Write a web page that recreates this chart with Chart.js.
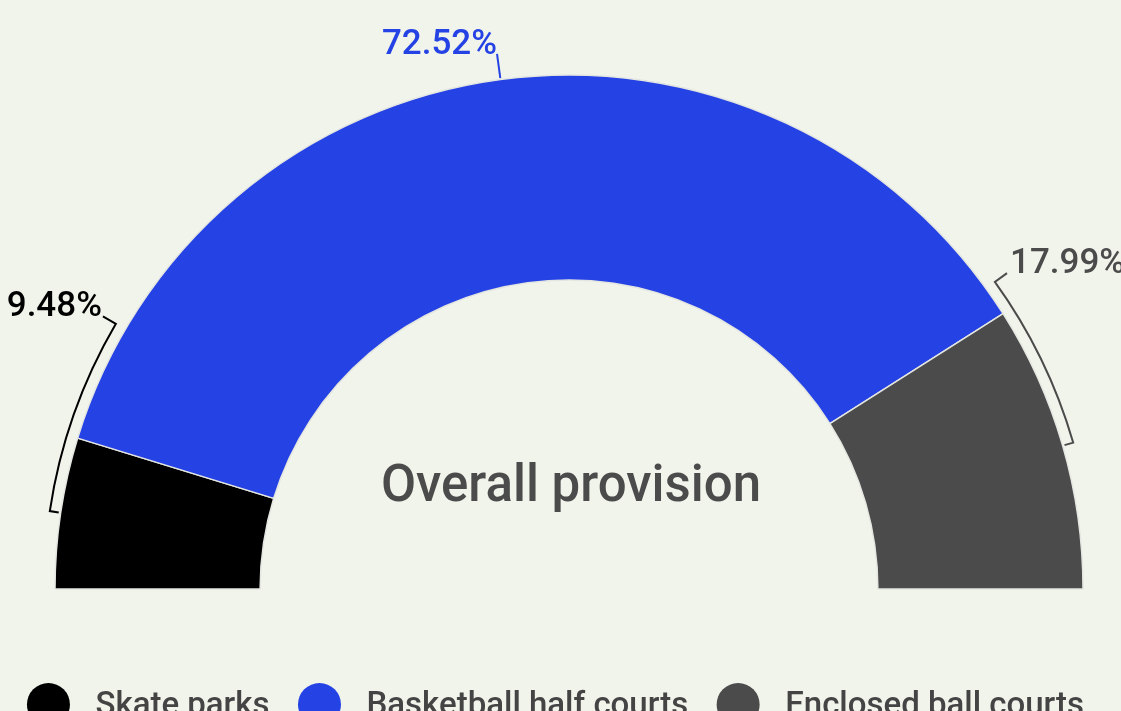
<!DOCTYPE html>
<html>
<head>
<meta charset="utf-8">
<script src="https://cdn.jsdelivr.net/npm/chart.js@4.4.1/dist/chart.umd.min.js"></script>
<style>
  html, body { margin: 0; padding: 0; background: #f1f4eb; overflow: hidden; }
  #wrap { width: 1121px; height: 711px; position: relative; }
</style>
</head>
<body>
<div id="wrap"><canvas id="provision"></canvas></div>
<script>
var categories = ['Skate parks', 'Basketball half courts', 'Enclosed ball courts'];
var shares = [9.48, 72.52, 17.99];
var sliceColors = ['#000000', '#2542e4', '#4b4b4b'];
var centerTitle = 'Overall provision';

var FONT = 'Roboto, "Noto Sans", sans-serif';

function polar(cx, cy, a, r) {
    return [cx + Math.cos(a) * r, cy + Math.sin(a) * r];
}

// percentage labels, with a bracket for the two small slices
var calloutPlugin = {
    id: 'callouts',
    afterDatasetsDraw: function(chart, args, opts) {
        var ctx = chart.ctx;
        var meta = chart.getDatasetMeta(0);
        meta.data.forEach(function(arc, i) {
            var p = arc.getProps(['x', 'y', 'startAngle', 'endAngle', 'outerRadius'], true);
            var mid = (p.startAngle + p.endAngle) / 2;
            var span = opts.bracketSpan[i];
            var color = sliceColors[i];
            var text = shares[i].toFixed(2) + '%';
            var tip, align, tx;

            ctx.save();
            ctx.strokeStyle = color;
            ctx.fillStyle = color;
            ctx.lineWidth = 2;
            ctx.lineJoin = 'miter';
            ctx.beginPath();
            if (!span) {
                var a = polar(p.x, p.y, mid, p.outerRadius + 1.5);
                tip = polar(p.x, p.y, mid, p.outerRadius + 26);
                ctx.moveTo(a[0], a[1]);
                ctx.lineTo(tip[0], tip[1]);
                align = 'right';
                tx = tip[0];
            } else {
                var rb = p.outerRadius + 11;
                var dir = mid < -Math.PI / 2 ? 1 : -1;
                var a0 = mid;
                var a1 = mid + dir * span * Math.PI / 180;
                var t0 = polar(p.x, p.y, a0, p.outerRadius + 2);
                ctx.moveTo(t0[0], t0[1]);
                ctx.arc(p.x, p.y, rb, a0, a1, dir < 0);
                tip = polar(p.x, p.y, a1, p.outerRadius + 26);
                ctx.lineTo(tip[0], tip[1]);
                align = dir > 0 ? 'right' : 'left';
                tx = dir > 0 ? tip[0] - 1 : tip[0] + 3;
            }
            ctx.stroke();

            ctx.font = '500 35px ' + FONT;
            ctx.textAlign = align;
            ctx.textBaseline = 'alphabetic';
            ctx.fillText(text, tx, tip[1]);
            ctx.restore();
        });

        // title in the hole
        var first = meta.data[0];
        ctx.save();
        ctx.font = '500 51px ' + FONT;
        ctx.fillStyle = '#4b4b4b';
        ctx.textAlign = 'center';
        ctx.textBaseline = 'alphabetic';
        ctx.fillText(centerTitle, first.x + 2, first.y - 88);
        ctx.restore();
    }
};

// legend row along the bottom edge
var legendPlugin = {
    id: 'dotLegend',
    afterDraw: function(chart, args, opts) {
        var ctx = chart.ctx;
        ctx.save();
        ctx.font = opts.font;
        var widths = categories.map(function(c) { return ctx.measureText(c).width; });
        var total = opts.dotR;
        widths.forEach(function(w, i) {
            total += opts.textGap + w;
            if (i < widths.length - 1) total += opts.itemGap;
        });
        var cx = (chart.width - total) / 2 + opts.shift + opts.dotR;
        categories.forEach(function(c, i) {
            ctx.beginPath();
            ctx.arc(cx, opts.y, opts.dotR, 0, Math.PI * 2);
            ctx.fillStyle = sliceColors[i];
            ctx.fill();
            ctx.fillStyle = '#444444';
            ctx.textAlign = 'left';
            ctx.textBaseline = 'alphabetic';
            ctx.fillText(c, cx + opts.textGap, opts.y + 10);
            cx = cx + opts.textGap + widths[i] + opts.itemGap;
        });
        ctx.restore();
    }
};

var ctx = document.getElementById('provision').getContext('2d');
var chart = new Chart(ctx, {
    type: 'doughnut',
    data: {
        labels: categories,
        datasets: [{
            data: shares,
            backgroundColor: sliceColors,
            borderColor: '#e4e6e1',
            borderWidth: 1.5,
            radius: 514,
            cutout: '60.1%',
            rotation: -90,
            circumference: 180
        }]
    },
    options: {
        responsive: true,
        maintainAspectRatio: false,
        animation: false,
        layout: {
            padding: { left: 17, right: 0, top: 0, bottom: 47 }
        },
        plugins: {
            legend: { display: false },
            tooltip: { enabled: false },
            callouts: { bracketSpan: [21.8, 0, 19.6] },
            dotLegend: {
                font: '500 33px ' + FONT,
                dotR: 21.5,
                textGap: 47,
                itemGap: 50,
                y: 704.5,
                shift: -5
            }
        }
    },
    plugins: [calloutPlugin, legendPlugin]
});
</script>
</body>
</html>
